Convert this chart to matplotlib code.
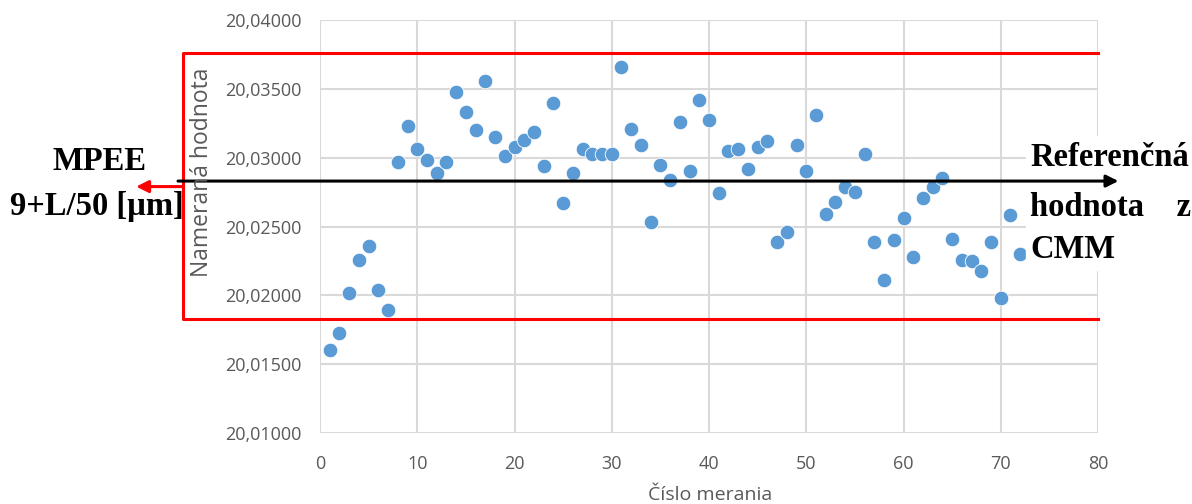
import matplotlib
matplotlib.use('Agg')
from matplotlib import pyplot as plt
from matplotlib.ticker import FuncFormatter

# údaje z merania
cislo_merania = list(range(1, 73))
hodnoty = [
    20.0160, 20.01725, 20.0202, 20.0226, 20.0236, 20.0204, 20.0189, 20.0297,
    20.0323, 20.0306, 20.0298, 20.0289, 20.0297, 20.0348, 20.0333, 20.0320,
    20.0356, 20.0315, 20.0301, 20.0308, 20.0313, 20.0319, 20.0294, 20.0340,
    20.0267, 20.0289, 20.0306, 20.0303, 20.0303, 20.0303, 20.0366, 20.0321,
    20.0309, 20.0253, 20.0295, 20.0284, 20.0326, 20.0290, 20.0342, 20.0327,
    20.0274, 20.0305, 20.0306, 20.0292, 20.0308, 20.0312, 20.0239, 20.0246,
    20.0309, 20.0290, 20.0331, 20.0259, 20.0268, 20.0279, 20.0275, 20.0303,
    20.0239, 20.0211, 20.0240, 20.0256, 20.0228, 20.0271, 20.0279, 20.0285,
    20.0241, 20.0226, 20.0225, 20.0218, 20.0239, 20.0198, 20.0258, 20.0230,
]
referencna = 20.0283
mpee_horna = 20.0376
mpee_dolna = 20.01827

x_ticks = [0, 10, 20, 30, 40, 50, 60, 70, 80]
y_ticks = [20.010, 20.015, 20.020, 20.025, 20.030, 20.035, 20.040]

modra = '#5B9BD5'
seda = '#595959'

fig = plt.figure(figsize=(11.92, 5.04), dpi=100)
ax = fig.add_axes([320/1192, 1 - 433/504, 778/1192, 413/504])

ax.scatter(cislo_merania, hodnoty, s=110, color=modra, edgecolors='white',
           linewidths=0.6, zorder=3)

ax.set_xlim(0, 80)
ax.set_ylim(20.010, 20.040)
ax.set_xticks(x_ticks)
ax.set_yticks(y_ticks)
ax.yaxis.set_major_formatter(FuncFormatter(lambda v, p: f'{v:.5f}'.replace('.', ',')))
ax.grid(True, color='#d9d9d9', linewidth=1.5)
ax.set_axisbelow(True)
for s in ax.spines.values():
    s.set_visible(False)
ax.tick_params(length=0, labelsize=13, labelcolor=seda)
ax.tick_params(axis='y', pad=13)
ax.tick_params(axis='x', pad=16)
for lab in ax.get_xticklabels() + ax.get_yticklabels():
    lab.set_family('Open Sans')

fig.text(710/1192, 1 - 495/504, 'Číslo merania', ha='center', va='center',
         fontsize=14, color=seda, family='Open Sans')
fig.text(202/1192, 1 - 172/504, 'Nameraná hodnota', ha='center', va='center',
         rotation=90, fontsize=16.5, color=seda, family='Open Sans')

# červená hranica MPEE (siaha až za os y)
x_lavy = -14.1
ax.plot([80, x_lavy, x_lavy, 80],
        [mpee_horna, mpee_horna, mpee_dolna, mpee_dolna],
        color='#ff0000', linewidth=2.2, clip_on=False, zorder=4)
ax.annotate('', xy=(-18.9, 20.0279), xytext=(x_lavy, 20.0279),
            arrowprops=dict(arrowstyle='-|>', color='#ff0000', lw=2.2,
                            mutation_scale=18, shrinkA=0, shrinkB=0),
            annotation_clip=False, zorder=4)

# biele pozadie textu vpravo
ax.add_patch(plt.Rectangle((1026/1192, 1 - 270/504), 166/1192, 134/504,
                           transform=fig.transFigure, color='white',
                           clip_on=False, zorder=5))

# čierna šípka referenčnej hodnoty
ax.annotate('', xy=(82.1, referencna), xytext=(-14.6, referencna),
            arrowprops=dict(arrowstyle='-|>', color='black', lw=2.2,
                            mutation_scale=18, shrinkA=0, shrinkB=0),
            annotation_clip=False, zorder=6)

pismo = dict(family='Liberation Serif', fontweight='bold', fontsize=23.5, color='black')
fig.text(100/1192, 1 - 161/504, 'MPEE', ha='center', va='center', **pismo)
fig.text(97/1192, 1 - 207/504, '9+L/50 [µm]', ha='center', va='center', **pismo)
ax.text(1030/1192, 1 - 158/504, 'Referenčná', ha='left', va='center', zorder=7,
        transform=fig.transFigure, **pismo)
ax.text(1030/1192, 1 - 207/504, 'hodnota    z', ha='left', va='center', zorder=7,
        transform=fig.transFigure, **pismo)
ax.text(1030/1192, 1 - 250/504, 'CMM', ha='left', va='center', zorder=7,
        transform=fig.transFigure, **pismo)

plt.savefig('out.png', dpi=100)
